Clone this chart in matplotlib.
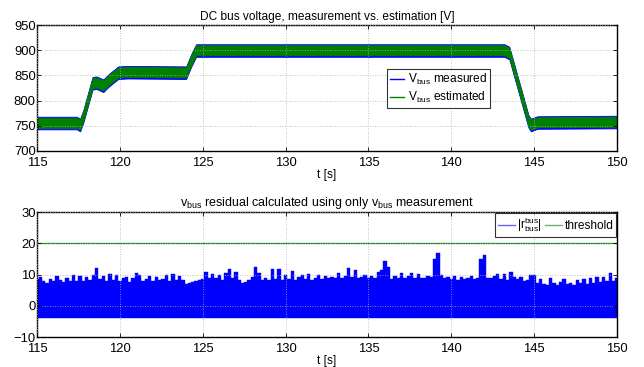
import numpy as np
import matplotlib
matplotlib.use("Agg")
import matplotlib.pyplot as plt

plt.rcParams['font.family'] = ['Liberation Sans', 'DejaVu Sans']
plt.rcParams['mathtext.fontset'] = 'custom'
plt.rcParams['mathtext.rm'] = 'Liberation Sans'
plt.rcParams['mathtext.it'] = 'Liberation Sans'
FS = 8.6
TFS = 9.4

# ---- top panel: DC bus voltage (centre line of the noisy band) ----
v_t = [115, 117.4, 117.6, 117.8, 118.35, 118.6, 119.0, 119.3, 119.9, 120.5,
       124.0, 124.3, 124.6, 125.0, 143.2, 143.5, 144.65, 144.8, 145.2, 150]
v_center = [756, 756, 752, 770, 835, 836, 830, 840, 856, 857,
            856, 880, 900, 900, 900, 895, 760, 752, 757, 758]
meas_lo = 13   # band half-widths
meas_hi = 12
est_lo = 10
est_hi = 10

# ---- bottom panel: residual upper envelope, every 0.2 s from 115 to 150 ----
res_top = [8.5, 9.2, 8.0, 7.2, 8.6, 7.8, 9.5, 8.2, 7.6, 9.0, 8.0,
           9.8, 8.0, 9.6, 7.8, 9.2, 8.4, 10.0, 12.0, 8.5, 9.6,
           8.0, 10.3, 8.4, 9.8, 7.8, 9.0, 9.2, 7.6, 8.8, 10.5,
           9.8, 8.0, 8.6, 9.5, 7.8, 9.3, 8.2, 8.6, 9.7, 8.0,
           10.3, 8.4, 9.6, 8.2, 7.0, 7.2, 7.6, 8.0, 8.4, 8.6,
           10.9, 8.8, 10.3, 9.0, 9.8, 8.4, 10.5, 11.8, 9.0, 10.8,
           8.2, 7.4, 7.6, 8.4, 9.2, 12.4, 10.5, 8.4, 9.0, 8.2,
           11.7, 8.6, 11.8, 8.2, 9.8, 8.6, 11.0, 8.4, 9.2, 10.0,
           8.6, 10.3, 8.4, 8.8, 10.0, 8.6, 9.6, 8.8, 9.2, 8.8,
           10.4, 9.0, 9.4, 12.0, 9.2, 11.6, 8.8, 9.2, 10.0, 8.8,
           9.4, 9.0, 10.9, 11.6, 14.3, 12.5, 8.6, 9.6, 8.8, 10.4,
           9.0, 9.6, 10.4, 8.8, 10.2, 9.0, 8.8, 9.6, 9.2, 15.0,
           16.8, 9.8, 8.8, 9.2, 8.6, 9.4, 8.4, 9.2, 8.6, 9.0,
           9.5, 8.6, 8.8, 15.0, 16.3, 9.0, 8.8, 9.4, 10.2, 8.6,
           10.1, 8.4, 10.7, 9.2, 8.6, 9.2, 8.0, 8.4, 9.8, 9.8,
           7.4, 8.5, 7.0, 6.8, 8.8, 7.2, 6.6, 7.6, 8.5, 7.0,
           7.4, 6.8, 8.2, 7.2, 8.5, 7.0, 8.8, 7.4, 9.2, 7.6,
           9.2, 8.0, 10.4, 8.0, 9.0]
res_t = np.round(np.arange(115, 150.0001, 0.2), 1)
res_bottom = -3.8
threshold = 20

xticks = [115, 120, 125, 130, 135, 140, 145, 150]

BLUE = '#0000ff'
GREEN = '#008000'

fig = plt.figure(figsize=(6.44, 3.67), dpi=100)
ax1 = fig.add_axes([0.0575, 0.5886, 0.9006, 0.343])
ax2 = fig.add_axes([0.0575, 0.0817, 0.9006, 0.3406])

vc = np.array(v_center, dtype=float)
ax1.fill_between(v_t, vc - meas_lo, vc + meas_hi, color=BLUE, lw=0.6, ec=BLUE)
ax1.fill_between(v_t, vc - est_lo, vc + est_hi, color=GREEN, lw=0.6, ec=GREEN)
ax1.plot([], [], color=BLUE, lw=1.0, label=r'V$_{\mathregular{bus}}$ measured')
ax1.plot([], [], color=GREEN, lw=1.0, label=r'V$_{\mathregular{bus}}$ estimated')
ax1.set_xlim(115, 150)
ax1.set_ylim(700, 950)
ax1.set_yticks([700, 750, 800, 850, 900, 950])
ax1.set_title('DC bus voltage, measurement vs. estimation [V]', fontsize=FS, pad=4)
ax1.set_xlabel('t [s]', fontsize=FS, labelpad=0)
leg1 = ax1.legend(loc='upper left', bbox_to_anchor=(0.603, 0.65), fontsize=FS,
                  frameon=True, fancybox=False, edgecolor='black', handlelength=1.2,
                  handletextpad=0.3, borderpad=0.25, labelspacing=0.25, borderaxespad=0)
leg1.get_frame().set_linewidth(0.8)

ax2.fill_between(res_t, res_bottom, res_top, step='mid', color=BLUE, lw=0.3, ec=BLUE)
ax2.axhline(threshold, color=GREEN, lw=0.9)
ax2.plot([], [], color=BLUE, lw=1.0, alpha=0.6, label=r'|r$^{\mathregular{bus}}_{\mathregular{bus}}$|')
ax2.plot([], [], color=GREEN, lw=1.0, alpha=0.6, label='threshold')
ax2.set_xlim(115, 150)
ax2.set_ylim(-10, 30)
ax2.set_yticks([-10, 0, 10, 20, 30])
ax2.set_yticklabels(['\u221210', '0', '10', '20', '30'])
ax2.set_title(r'v$_{\mathregular{bus}}$ residual calculated using only v$_{\mathregular{bus}}$ measurement',
              fontsize=9.0, pad=4)
ax2.set_xlabel('t [s]', fontsize=FS, labelpad=0)
leg2 = ax2.legend(loc='upper right', ncol=2, fontsize=FS, frameon=True, fancybox=False,
                  edgecolor='black', handlelength=1.4, handletextpad=0.2,
                  columnspacing=0.3, borderpad=0.2, borderaxespad=0.1)
leg2.get_frame().set_linewidth(0.8)

for ax in (ax1, ax2):
    ax.set_xticks(xticks)
    ax.grid(True, color='#b0b0b0', linestyle=(0, (1, 2)), lw=0.6)
    ax.set_axisbelow(False)
    ax.tick_params(direction='in', top=True, right=True, labelsize=TFS,
                   length=3, width=0.6)
    ax.tick_params(axis='x', pad=4)
    ax.tick_params(axis='y', pad=1)
    for s in ax.spines.values():
        s.set_linewidth(1.0)

fig.savefig('out.png', dpi=100)
